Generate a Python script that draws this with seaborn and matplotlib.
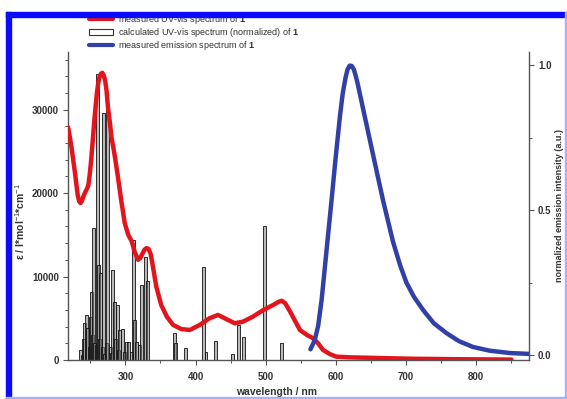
import numpy as np
import pandas as pd
import matplotlib
matplotlib.use("Agg")
import matplotlib.pyplot as plt
import matplotlib.ticker as mticker
from matplotlib.patches import Patch, Rectangle
from matplotlib.lines import Line2D
import seaborn as sns

# ── Data ────────────────────────────────────────────────────────
uv_wl  = [218, 220, 223, 226, 228, 230, 232, 234, 236, 238, 240, 242, 245, 247,
          249, 251, 254, 256, 259, 261, 263, 265, 267, 269, 271, 273, 275, 278,
          280, 283, 285, 289, 294, 299, 304, 309, 313, 316, 318, 321, 324, 327,
          330, 333, 336, 339, 344, 351, 359, 368, 380, 392, 406, 420, 432, 444,
          456, 468, 482, 497, 511, 518, 523, 528, 535, 542, 549, 559, 568, 575,
          582, 592, 601, 620, 639, 710, 780, 851]
uv_eps = [27900, 27000, 25500, 23600, 22400, 21000, 19700, 19000, 18800, 19100,
          19600, 20000, 20500, 20900, 22200, 23900, 27000, 29100, 31800, 33100,
          33900, 34300, 34400, 34100, 33500, 32300, 30300, 28300, 26700, 25300,
          24300, 22100, 19100, 16400, 15000, 14200, 13000, 12400, 12000, 12200,
          12700, 13200, 13400, 13300, 12700, 11300, 8800, 6600, 5200, 4200, 3700,
          3600, 4200, 5000, 5400, 4900, 4400, 4600, 5200, 6000, 6600, 6950, 7100,
          6800, 5800, 4700, 3600, 3000, 2600, 2000, 1200, 700, 400, 320, 280, 150,
          90, 50]

calc_wl  = [236, 238, 240, 242, 244, 246, 248, 250, 251, 253, 255, 256, 258, 260,
            261, 263, 265, 267, 268, 270, 273, 274, 278, 280, 282, 284, 286, 288,
            290, 292, 296, 298, 302, 305, 309, 312, 313, 316, 320, 323, 328, 332,
            370, 372, 386, 411, 415, 428, 453, 462, 468, 498, 523]
calc_eps = [1200, 600, 2500, 4400, 5400, 3800, 1500, 5200, 8100, 3000, 15800, 2000,
            1800, 34300, 11400, 2500, 10400, 1500, 29600, 700, 2000, 30100, 1500,
            800, 10800, 7000, 2500, 6600, 1200, 3600, 3700, 900, 2100, 2200, 1000,
            14400, 4800, 2200, 1800, 9000, 12300, 9500, 3200, 2000, 1400, 11100,
            900, 2300, 700, 4200, 2800, 16000, 2000]

em_wl  = [564, 570, 575, 580, 587, 594, 600, 606, 610, 614, 617, 620, 623, 626,
          629, 632, 636, 640, 649, 658, 668, 682, 692, 701, 712, 725, 740, 758,
          776, 796, 820, 849, 876]
em_int = [0.02, 0.05, 0.10, 0.19, 0.36, 0.53, 0.68, 0.82, 0.90, 0.955, 0.985,
          0.998, 0.997, 0.985, 0.96, 0.93, 0.885, 0.84, 0.74, 0.64, 0.53, 0.39,
          0.31, 0.25, 0.20, 0.155, 0.11, 0.076, 0.048, 0.028, 0.015, 0.007, 0.004]

labels = ["measured UV-vis spectrum of $\\mathbf{1}$",
          "calculated UV-vis spectrum (normalized) of $\\mathbf{1}$",
          "measured emission spectrum of $\\mathbf{1}$"]

RED  = "#e3141b"
BLUE = "#3140a6"
AXC  = "#555555"
TXT  = "#333333"
FRAME = "#0a0aff"

sns.set_theme(style="ticks")
plt.rcParams["font.family"] = ["Liberation Sans", "DejaVu Sans"]
plt.rcParams["mathtext.fontset"] = "custom"
plt.rcParams["mathtext.rm"] = "Liberation Sans"
plt.rcParams["mathtext.bf"] = "Liberation Sans:bold"

uv = pd.DataFrame({"wl": uv_wl, "eps": uv_eps})
em = pd.DataFrame({"wl": em_wl, "int": em_int})

fig = plt.figure(figsize=(5.67, 3.99), dpi=100)
ax = fig.add_axes([68 / 567, 1 - 360 / 399, (529 - 68) / 567, (360 - 52) / 399])
ax2 = ax.twinx()

# calculated transitions as thin bars
ax.bar(calc_wl, calc_eps, width=4.2, color=(0.5, 0.5, 0.5, 0.55),
       edgecolor="#111111", linewidth=0.6, zorder=2)
sns.lineplot(data=uv, x="wl", y="eps", ax=ax, color=RED, lw=3.2, zorder=3,
             legend=False, solid_joinstyle="round", solid_capstyle="round")
sns.lineplot(data=em, x="wl", y="int", ax=ax2, color=BLUE, lw=3.2, legend=False,
             solid_joinstyle="round", solid_capstyle="round")

ax.set_xlim(218, 876)
ax.set_ylim(0, 36900)
ax2.set_ylim(-0.017, 1.045)

ax.xaxis.set_major_locator(mticker.MultipleLocator(100))
ax.xaxis.set_minor_locator(mticker.MultipleLocator(50))
ax.yaxis.set_major_locator(mticker.MultipleLocator(10000))
ax.yaxis.set_minor_locator(mticker.MultipleLocator(2000))
ax2.yaxis.set_major_locator(mticker.FixedLocator([0, 0.5, 1.0]))
ax2.yaxis.set_minor_locator(mticker.FixedLocator([0.25, 0.75]))
ax2.yaxis.set_major_formatter(mticker.FormatStrFormatter("%.1f"))

for a in (ax, ax2):
    a.spines["top"].set_visible(False)
    for s in ("left", "right", "bottom"):
        a.spines[s].set_color(AXC)
        a.spines[s].set_linewidth(1.0)
    a.tick_params(which="major", length=3.5, width=0.8, color=AXC,
                  labelsize=7, labelcolor=TXT, pad=3)
    a.tick_params(which="minor", length=2.5, width=0.7, color=AXC)
    for lab in a.get_xticklabels() + a.get_yticklabels():
        lab.set_fontweight("bold")
ax.spines["right"].set_visible(False)
ax2.spines["left"].set_visible(False)
ax2.spines["bottom"].set_visible(False)
ax.tick_params(axis="x", pad=5)

ax.set_xlabel("")
ax.set_ylabel("")
ax2.set_ylabel("")

fig.text(20 / 567, 1 - 222 / 399, "ε / l*mol$^{-1}$*cm$^{-1}$", rotation=90,
         ha="center", va="center", fontsize=7.5, fontweight="bold", color=TXT)
fig.text(559 / 567, 1 - 205 / 399, "normalized emission intensity (a.u.)",
         rotation=90, ha="center", va="center", fontsize=6.5, fontweight="bold",
         color=TXT)
fig.text(277 / 567, 1 - 392 / 399, "wavelength / nm", ha="center", va="center",
         fontsize=7.5, fontweight="bold", color=TXT)

handles = [Line2D([], [], color=RED, lw=3.0),
           Patch(facecolor="white", edgecolor="#333333", linewidth=0.8),
           Line2D([], [], color=BLUE, lw=3.0)]
fig.legend(handles, labels, loc="upper left", bbox_to_anchor=(89 / 567, 1 - 13 / 399),
           frameon=False, fontsize=6.5, handlelength=2.7, handleheight=0.6,
           handletextpad=0.55, labelspacing=0.0, borderpad=0, borderaxespad=0,
           labelcolor=TXT)

# blue screenshot frame
fig.add_artist(Rectangle((6 / 567, 0), 5 / 567, (399 - 12) / 399,
                         transform=fig.transFigure, color=FRAME, zorder=10))
fig.add_artist(Rectangle((6 / 567, 1 - 17 / 399), 1 - 6 / 567, 5 / 399,
                         transform=fig.transFigure, color=FRAME, zorder=10))
fig.add_artist(Rectangle((564.5 / 567, 0), 1.5 / 567, 1 - 12 / 399,
                         transform=fig.transFigure, color="#a8b0ff", zorder=10))
fig.add_artist(Rectangle((6 / 567, 1 / 399), 1 - 6 / 567, 1.5 / 399,
                         transform=fig.transFigure, color="#a8b0ff", zorder=10))

fig.savefig("out.png", dpi=100, facecolor="white")
